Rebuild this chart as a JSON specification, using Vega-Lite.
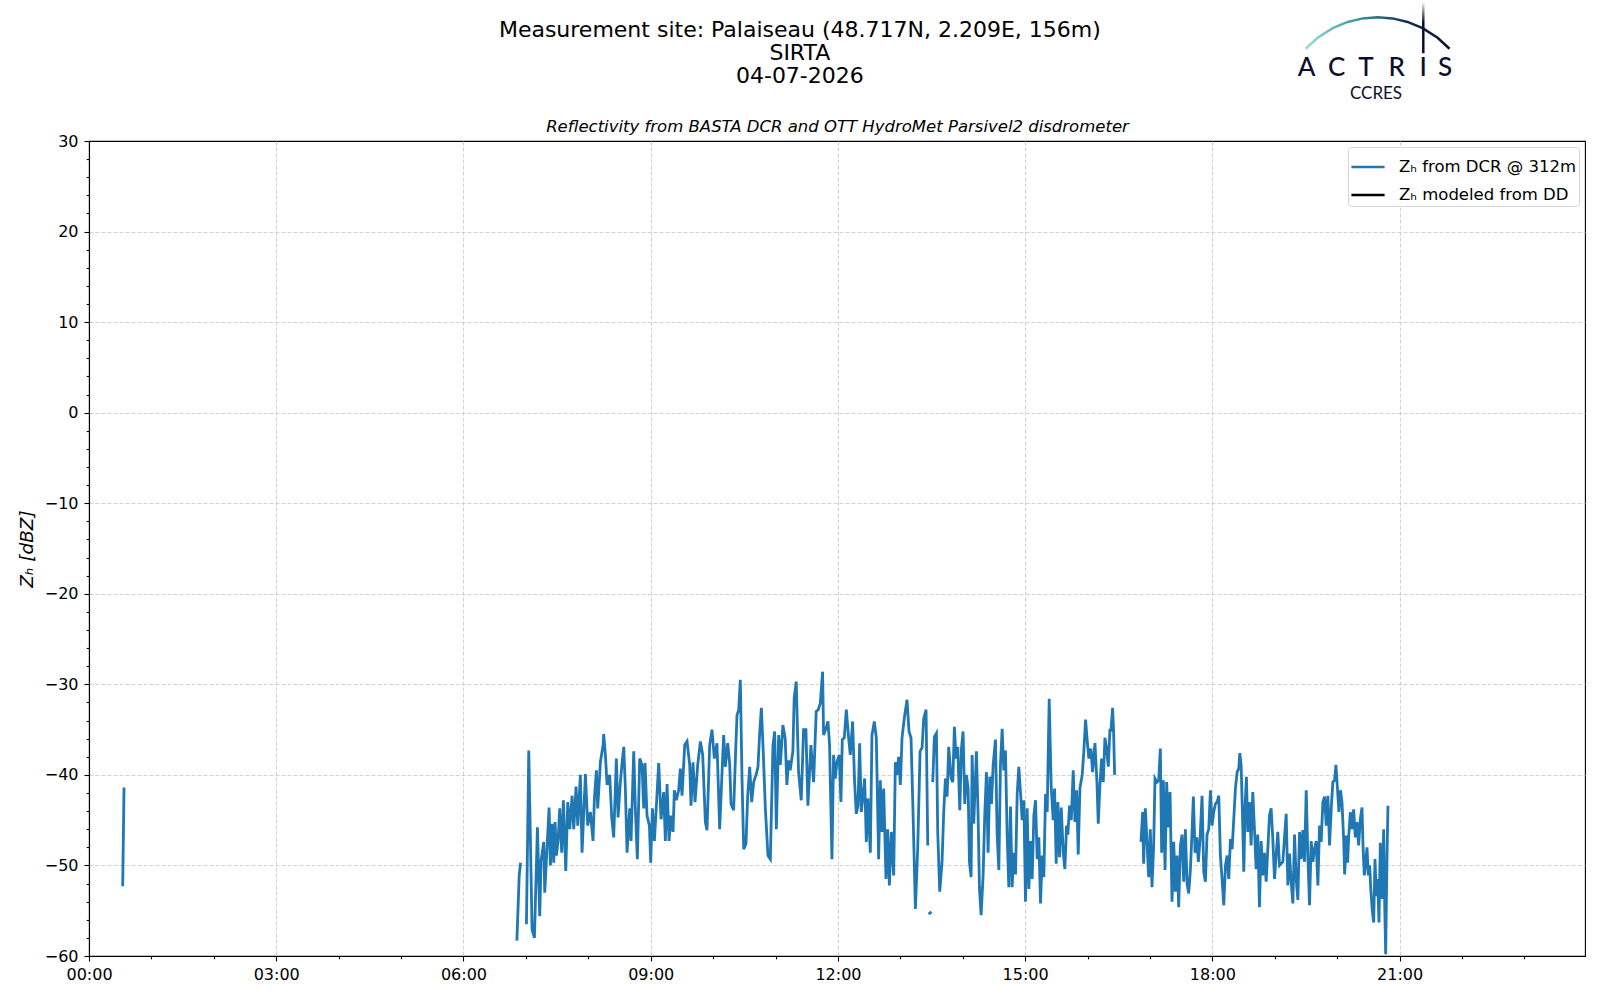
{
  "$schema": "https://vega.github.io/schema/vega-lite/v6.json",
  "width": 1496,
  "height": 815,
  "autosize": {"type": "none"},
  "padding": {"left": 89, "top": 141, "right": 15, "bottom": 44},
  "background": "white",
  "config": {
    "font": "DejaVu Sans",
    "view": {"stroke": "black", "strokeWidth": 1.1}
  },
  "datasets": {
    "dcr": [
      {"t": 0.540, "z": -52.3, "seg": 1}, {"t": 0.561, "z": -41.4, "seg": 1},
      {"t": 6.856, "z": -58.3, "seg": 2}, {"t": 6.893, "z": -51.1, "seg": 2}, {"t": 6.915, "z": -49.7, "seg": 2},
      {"t": 7.009, "z": -56.5, "seg": 3}, {"t": 7.046, "z": -37.3, "seg": 3}, {"t": 7.073, "z": -47.3, "seg": 3}, {"t": 7.099, "z": -57.1, "seg": 3},
      {"t": 7.137, "z": -58.0, "seg": 3}, {"t": 7.185, "z": -45.8, "seg": 3}, {"t": 7.222, "z": -55.6, "seg": 3}, {"t": 7.243, "z": -49.5, "seg": 3},
      {"t": 7.286, "z": -47.4, "seg": 3}, {"t": 7.302, "z": -53.0, "seg": 3}, {"t": 7.372, "z": -43.6, "seg": 3}, {"t": 7.393, "z": -50.0, "seg": 3},
      {"t": 7.420, "z": -45.4, "seg": 3}, {"t": 7.446, "z": -49.7, "seg": 3}, {"t": 7.468, "z": -45.2, "seg": 3}, {"t": 7.489, "z": -48.9, "seg": 3},
      {"t": 7.516, "z": -47.3, "seg": 3}, {"t": 7.542, "z": -43.7, "seg": 3}, {"t": 7.574, "z": -48.6, "seg": 3}, {"t": 7.601, "z": -42.8, "seg": 3},
      {"t": 7.639, "z": -50.6, "seg": 3}, {"t": 7.671, "z": -43.0, "seg": 3}, {"t": 7.703, "z": -46.0, "seg": 3}, {"t": 7.740, "z": -42.3, "seg": 3},
      {"t": 7.767, "z": -46.0, "seg": 3}, {"t": 7.804, "z": -41.3, "seg": 3}, {"t": 7.831, "z": -45.6, "seg": 3}, {"t": 7.873, "z": -40.0, "seg": 3},
      {"t": 7.900, "z": -48.6, "seg": 3}, {"t": 7.954, "z": -39.9, "seg": 3}, {"t": 7.991, "z": -45.6, "seg": 3}, {"t": 8.034, "z": -44.1, "seg": 3},
      {"t": 8.076, "z": -47.3, "seg": 3}, {"t": 8.098, "z": -42.6, "seg": 3}, {"t": 8.130, "z": -39.5, "seg": 3}, {"t": 8.151, "z": -43.7, "seg": 3},
      {"t": 8.194, "z": -38.6, "seg": 3}, {"t": 8.237, "z": -36.7, "seg": 3}, {"t": 8.247, "z": -35.5, "seg": 3}, {"t": 8.274, "z": -37.8, "seg": 3},
      {"t": 8.301, "z": -41.1, "seg": 3}, {"t": 8.343, "z": -40.0, "seg": 3}, {"t": 8.375, "z": -44.7, "seg": 3}, {"t": 8.407, "z": -46.9, "seg": 3},
      {"t": 8.450, "z": -38.2, "seg": 3}, {"t": 8.477, "z": -44.7, "seg": 3}, {"t": 8.514, "z": -40.8, "seg": 3}, {"t": 8.541, "z": -38.7, "seg": 3},
      {"t": 8.568, "z": -36.9, "seg": 3}, {"t": 8.594, "z": -41.5, "seg": 3}, {"t": 8.621, "z": -48.6, "seg": 3}, {"t": 8.664, "z": -43.7, "seg": 3},
      {"t": 8.685, "z": -47.3, "seg": 3}, {"t": 8.728, "z": -37.4, "seg": 3}, {"t": 8.754, "z": -43.7, "seg": 3}, {"t": 8.786, "z": -49.3, "seg": 3},
      {"t": 8.824, "z": -38.2, "seg": 3}, {"t": 8.861, "z": -38.9, "seg": 3}, {"t": 8.888, "z": -43.7, "seg": 3}, {"t": 8.909, "z": -38.7, "seg": 3},
      {"t": 8.941, "z": -44.5, "seg": 3}, {"t": 8.979, "z": -45.6, "seg": 3}, {"t": 9.000, "z": -49.7, "seg": 3}, {"t": 9.027, "z": -43.7, "seg": 3},
      {"t": 9.059, "z": -47.3, "seg": 3}, {"t": 9.091, "z": -43.4, "seg": 3}, {"t": 9.128, "z": -38.7, "seg": 3}, {"t": 9.166, "z": -44.9, "seg": 3},
      {"t": 9.208, "z": -41.9, "seg": 3}, {"t": 9.235, "z": -47.3, "seg": 3}, {"t": 9.262, "z": -41.0, "seg": 3}, {"t": 9.294, "z": -47.3, "seg": 3},
      {"t": 9.326, "z": -44.5, "seg": 3}, {"t": 9.358, "z": -46.3, "seg": 3}, {"t": 9.379, "z": -41.7, "seg": 3}, {"t": 9.411, "z": -42.8, "seg": 3},
      {"t": 9.448, "z": -41.7, "seg": 3}, {"t": 9.475, "z": -39.3, "seg": 3}, {"t": 9.502, "z": -42.3, "seg": 3}, {"t": 9.545, "z": -36.7, "seg": 3},
      {"t": 9.582, "z": -36.3, "seg": 3}, {"t": 9.625, "z": -38.9, "seg": 3}, {"t": 9.646, "z": -43.4, "seg": 3}, {"t": 9.678, "z": -38.6, "seg": 3},
      {"t": 9.710, "z": -43.0, "seg": 3}, {"t": 9.753, "z": -38.9, "seg": 3}, {"t": 9.796, "z": -36.3, "seg": 3}, {"t": 9.833, "z": -37.8, "seg": 3},
      {"t": 9.876, "z": -45.2, "seg": 3}, {"t": 9.902, "z": -46.1, "seg": 3}, {"t": 9.945, "z": -36.7, "seg": 3}, {"t": 9.982, "z": -35.0, "seg": 3},
      {"t": 10.020, "z": -38.2, "seg": 3}, {"t": 10.062, "z": -36.5, "seg": 3}, {"t": 10.105, "z": -46.0, "seg": 3}, {"t": 10.132, "z": -41.5, "seg": 3},
      {"t": 10.169, "z": -35.6, "seg": 3}, {"t": 10.196, "z": -39.1, "seg": 3}, {"t": 10.233, "z": -36.5, "seg": 3}, {"t": 10.265, "z": -38.7, "seg": 3},
      {"t": 10.287, "z": -43.2, "seg": 3}, {"t": 10.329, "z": -43.9, "seg": 3}, {"t": 10.361, "z": -37.4, "seg": 3}, {"t": 10.383, "z": -33.4, "seg": 3},
      {"t": 10.410, "z": -32.8, "seg": 3}, {"t": 10.436, "z": -29.5, "seg": 3}, {"t": 10.463, "z": -40.4, "seg": 3}, {"t": 10.490, "z": -48.2, "seg": 3},
      {"t": 10.527, "z": -47.6, "seg": 3}, {"t": 10.554, "z": -42.3, "seg": 3}, {"t": 10.586, "z": -39.1, "seg": 3}, {"t": 10.618, "z": -43.0, "seg": 3},
      {"t": 10.650, "z": -40.8, "seg": 3}, {"t": 10.692, "z": -39.9, "seg": 3}, {"t": 10.719, "z": -39.1, "seg": 3}, {"t": 10.746, "z": -35.4, "seg": 3},
      {"t": 10.773, "z": -32.6, "seg": 3}, {"t": 10.799, "z": -36.7, "seg": 3}, {"t": 10.837, "z": -43.7, "seg": 3}, {"t": 10.879, "z": -48.9, "seg": 3},
      {"t": 10.917, "z": -49.3, "seg": 3}, {"t": 10.959, "z": -36.7, "seg": 3}, {"t": 10.986, "z": -35.2, "seg": 3}, {"t": 11.013, "z": -46.0, "seg": 3},
      {"t": 11.050, "z": -35.6, "seg": 3}, {"t": 11.077, "z": -38.9, "seg": 3}, {"t": 11.118, "z": -34.5, "seg": 3}, {"t": 11.155, "z": -36.0, "seg": 3},
      {"t": 11.182, "z": -41.1, "seg": 3}, {"t": 11.209, "z": -38.4, "seg": 3}, {"t": 11.235, "z": -39.5, "seg": 3}, {"t": 11.278, "z": -37.4, "seg": 3},
      {"t": 11.299, "z": -31.5, "seg": 3}, {"t": 11.332, "z": -29.7, "seg": 3}, {"t": 11.369, "z": -39.7, "seg": 3}, {"t": 11.412, "z": -42.8, "seg": 3},
      {"t": 11.449, "z": -35.0, "seg": 3}, {"t": 11.487, "z": -35.0, "seg": 3}, {"t": 11.519, "z": -43.4, "seg": 3}, {"t": 11.567, "z": -36.7, "seg": 3},
      {"t": 11.610, "z": -40.8, "seg": 3}, {"t": 11.652, "z": -33.0, "seg": 3}, {"t": 11.684, "z": -32.8, "seg": 3}, {"t": 11.717, "z": -32.1, "seg": 3},
      {"t": 11.754, "z": -28.6, "seg": 3}, {"t": 11.770, "z": -35.6, "seg": 3}, {"t": 11.807, "z": -34.9, "seg": 3}, {"t": 11.840, "z": -34.1, "seg": 3},
      {"t": 11.866, "z": -36.7, "seg": 3}, {"t": 11.904, "z": -49.3, "seg": 3}, {"t": 11.930, "z": -37.8, "seg": 3}, {"t": 11.957, "z": -40.4, "seg": 3},
      {"t": 11.984, "z": -38.6, "seg": 3}, {"t": 12.021, "z": -37.8, "seg": 3}, {"t": 12.048, "z": -43.0, "seg": 3}, {"t": 12.070, "z": -36.1, "seg": 3},
      {"t": 12.102, "z": -35.9, "seg": 3}, {"t": 12.134, "z": -32.8, "seg": 3}, {"t": 12.171, "z": -35.9, "seg": 3}, {"t": 12.198, "z": -37.8, "seg": 3},
      {"t": 12.235, "z": -34.1, "seg": 3}, {"t": 12.267, "z": -40.8, "seg": 3}, {"t": 12.294, "z": -44.3, "seg": 3}, {"t": 12.321, "z": -43.4, "seg": 3},
      {"t": 12.348, "z": -36.5, "seg": 3}, {"t": 12.374, "z": -44.1, "seg": 3}, {"t": 12.401, "z": -42.3, "seg": 3}, {"t": 12.428, "z": -40.4, "seg": 3},
      {"t": 12.455, "z": -47.4, "seg": 3}, {"t": 12.481, "z": -42.6, "seg": 3}, {"t": 12.519, "z": -48.6, "seg": 3}, {"t": 12.545, "z": -35.6, "seg": 3},
      {"t": 12.583, "z": -34.1, "seg": 3}, {"t": 12.615, "z": -35.9, "seg": 3}, {"t": 12.652, "z": -49.3, "seg": 3}, {"t": 12.679, "z": -40.6, "seg": 3},
      {"t": 12.706, "z": -46.3, "seg": 3}, {"t": 12.733, "z": -41.5, "seg": 3}, {"t": 12.770, "z": -51.5, "seg": 3}, {"t": 12.797, "z": -46.0, "seg": 3},
      {"t": 12.824, "z": -52.2, "seg": 3}, {"t": 12.856, "z": -46.3, "seg": 3}, {"t": 12.893, "z": -51.1, "seg": 3}, {"t": 12.920, "z": -38.6, "seg": 3},
      {"t": 12.947, "z": -40.0, "seg": 3}, {"t": 12.973, "z": -38.0, "seg": 3}, {"t": 13.000, "z": -41.1, "seg": 3}, {"t": 13.027, "z": -35.9, "seg": 3},
      {"t": 13.064, "z": -33.7, "seg": 3}, {"t": 13.107, "z": -31.7, "seg": 3}, {"t": 13.139, "z": -35.2, "seg": 3}, {"t": 13.171, "z": -35.9, "seg": 3},
      {"t": 13.203, "z": -44.1, "seg": 3}, {"t": 13.241, "z": -54.8, "seg": 3}, {"t": 13.278, "z": -48.2, "seg": 3}, {"t": 13.316, "z": -37.4, "seg": 3},
      {"t": 13.348, "z": -37.0, "seg": 3}, {"t": 13.374, "z": -33.8, "seg": 3}, {"t": 13.412, "z": -32.8, "seg": 3}, {"t": 13.439, "z": -47.8, "seg": 3},
      {"t": 13.455, "z": -55.4, "seg": 4}, {"t": 13.497, "z": -55.1, "seg": 4},
      {"t": 13.519, "z": -40.8, "seg": 5}, {"t": 13.545, "z": -35.8, "seg": 5}, {"t": 13.578, "z": -35.4, "seg": 5}, {"t": 13.599, "z": -46.3, "seg": 5},
      {"t": 13.631, "z": -52.9, "seg": 5}, {"t": 13.668, "z": -49.6, "seg": 5}, {"t": 13.695, "z": -44.1, "seg": 5}, {"t": 13.722, "z": -40.4, "seg": 5},
      {"t": 13.749, "z": -42.4, "seg": 5}, {"t": 13.775, "z": -36.9, "seg": 5}, {"t": 13.813, "z": -40.4, "seg": 5}, {"t": 13.840, "z": -40.8, "seg": 5},
      {"t": 13.866, "z": -34.7, "seg": 5}, {"t": 13.893, "z": -38.2, "seg": 5}, {"t": 13.920, "z": -36.9, "seg": 5}, {"t": 13.952, "z": -43.9, "seg": 5},
      {"t": 13.979, "z": -37.1, "seg": 5}, {"t": 14.005, "z": -35.2, "seg": 5}, {"t": 14.032, "z": -43.2, "seg": 5}, {"t": 14.059, "z": -40.0, "seg": 5},
      {"t": 14.086, "z": -41.5, "seg": 5}, {"t": 14.107, "z": -49.6, "seg": 5}, {"t": 14.134, "z": -51.3, "seg": 5}, {"t": 14.150, "z": -37.8, "seg": 5},
      {"t": 14.176, "z": -45.4, "seg": 5}, {"t": 14.219, "z": -37.4, "seg": 5}, {"t": 14.246, "z": -44.5, "seg": 5}, {"t": 14.267, "z": -52.4, "seg": 5},
      {"t": 14.294, "z": -55.5, "seg": 5}, {"t": 14.326, "z": -51.1, "seg": 5}, {"t": 14.353, "z": -44.3, "seg": 5}, {"t": 14.380, "z": -39.7, "seg": 5},
      {"t": 14.406, "z": -48.6, "seg": 5}, {"t": 14.433, "z": -40.2, "seg": 5}, {"t": 14.460, "z": -43.2, "seg": 5}, {"t": 14.487, "z": -38.9, "seg": 5},
      {"t": 14.524, "z": -36.1, "seg": 5}, {"t": 14.551, "z": -46.6, "seg": 5}, {"t": 14.578, "z": -50.5, "seg": 5}, {"t": 14.604, "z": -38.9, "seg": 5},
      {"t": 14.631, "z": -34.9, "seg": 5}, {"t": 14.658, "z": -39.5, "seg": 5}, {"t": 14.684, "z": -37.3, "seg": 5}, {"t": 14.711, "z": -46.6, "seg": 5},
      {"t": 14.738, "z": -52.4, "seg": 5}, {"t": 14.765, "z": -43.5, "seg": 5}, {"t": 14.791, "z": -52.4, "seg": 5}, {"t": 14.818, "z": -48.6, "seg": 5},
      {"t": 14.845, "z": -51.0, "seg": 5}, {"t": 14.872, "z": -42.1, "seg": 5}, {"t": 14.898, "z": -39.1, "seg": 5}, {"t": 14.925, "z": -41.9, "seg": 5},
      {"t": 14.952, "z": -45.0, "seg": 5}, {"t": 14.979, "z": -42.8, "seg": 5}, {"t": 15.005, "z": -54.0, "seg": 5}, {"t": 15.032, "z": -43.7, "seg": 5},
      {"t": 15.059, "z": -52.6, "seg": 5}, {"t": 15.086, "z": -47.3, "seg": 5}, {"t": 15.112, "z": -51.5, "seg": 5}, {"t": 15.139, "z": -44.5, "seg": 5},
      {"t": 15.166, "z": -42.8, "seg": 5}, {"t": 15.193, "z": -49.3, "seg": 5}, {"t": 15.219, "z": -46.9, "seg": 5}, {"t": 15.246, "z": -54.2, "seg": 5},
      {"t": 15.273, "z": -48.9, "seg": 5}, {"t": 15.299, "z": -51.3, "seg": 5}, {"t": 15.326, "z": -42.1, "seg": 5}, {"t": 15.353, "z": -44.1, "seg": 5},
      {"t": 15.385, "z": -31.6, "seg": 5}, {"t": 15.417, "z": -41.3, "seg": 5}, {"t": 15.449, "z": -45.0, "seg": 5}, {"t": 15.471, "z": -41.5, "seg": 5},
      {"t": 15.497, "z": -49.8, "seg": 5}, {"t": 15.524, "z": -43.0, "seg": 5}, {"t": 15.551, "z": -49.1, "seg": 5}, {"t": 15.578, "z": -43.6, "seg": 5},
      {"t": 15.610, "z": -48.6, "seg": 5}, {"t": 15.636, "z": -50.4, "seg": 5}, {"t": 15.663, "z": -45.6, "seg": 5}, {"t": 15.684, "z": -46.6, "seg": 5},
      {"t": 15.711, "z": -43.4, "seg": 5}, {"t": 15.738, "z": -45.0, "seg": 5}, {"t": 15.770, "z": -39.5, "seg": 5}, {"t": 15.797, "z": -45.2, "seg": 5},
      {"t": 15.824, "z": -41.7, "seg": 5}, {"t": 15.850, "z": -48.8, "seg": 5}, {"t": 15.877, "z": -41.5, "seg": 5}, {"t": 15.914, "z": -40.0, "seg": 5},
      {"t": 15.941, "z": -37.3, "seg": 5}, {"t": 15.968, "z": -33.9, "seg": 5}, {"t": 15.995, "z": -36.3, "seg": 5}, {"t": 16.021, "z": -38.2, "seg": 5},
      {"t": 16.053, "z": -37.1, "seg": 5}, {"t": 16.080, "z": -39.7, "seg": 5}, {"t": 16.118, "z": -36.5, "seg": 5}, {"t": 16.150, "z": -40.8, "seg": 5},
      {"t": 16.171, "z": -45.4, "seg": 5}, {"t": 16.198, "z": -41.1, "seg": 5}, {"t": 16.225, "z": -38.2, "seg": 5}, {"t": 16.251, "z": -40.8, "seg": 5},
      {"t": 16.278, "z": -35.9, "seg": 5}, {"t": 16.305, "z": -37.1, "seg": 5}, {"t": 16.332, "z": -39.1, "seg": 5}, {"t": 16.358, "z": -34.9, "seg": 5},
      {"t": 16.374, "z": -35.2, "seg": 5}, {"t": 16.401, "z": -32.6, "seg": 5}, {"t": 16.417, "z": -35.2, "seg": 5}, {"t": 16.433, "z": -40.0, "seg": 5},
      {"t": 16.856, "z": -47.4, "seg": 6}, {"t": 16.882, "z": -44.1, "seg": 6}, {"t": 16.898, "z": -49.8, "seg": 6}, {"t": 16.925, "z": -43.7, "seg": 6},
      {"t": 16.952, "z": -47.4, "seg": 6}, {"t": 16.979, "z": -51.3, "seg": 6}, {"t": 17.005, "z": -46.0, "seg": 6}, {"t": 17.032, "z": -52.4, "seg": 6},
      {"t": 17.059, "z": -47.8, "seg": 6}, {"t": 17.080, "z": -40.4, "seg": 6}, {"t": 17.112, "z": -40.8, "seg": 6}, {"t": 17.139, "z": -40.6, "seg": 6},
      {"t": 17.166, "z": -37.1, "seg": 6}, {"t": 17.187, "z": -48.6, "seg": 6}, {"t": 17.214, "z": -40.6, "seg": 6}, {"t": 17.241, "z": -50.5, "seg": 6},
      {"t": 17.267, "z": -40.8, "seg": 6}, {"t": 17.294, "z": -45.8, "seg": 6}, {"t": 17.321, "z": -41.9, "seg": 6}, {"t": 17.353, "z": -54.0, "seg": 6},
      {"t": 17.380, "z": -47.4, "seg": 6}, {"t": 17.406, "z": -52.9, "seg": 6}, {"t": 17.433, "z": -48.9, "seg": 6}, {"t": 17.460, "z": -54.6, "seg": 6},
      {"t": 17.487, "z": -47.8, "seg": 6}, {"t": 17.513, "z": -46.6, "seg": 6}, {"t": 17.540, "z": -51.8, "seg": 6}, {"t": 17.567, "z": -46.0, "seg": 6},
      {"t": 17.594, "z": -52.0, "seg": 6}, {"t": 17.620, "z": -53.1, "seg": 6}, {"t": 17.647, "z": -50.5, "seg": 6}, {"t": 17.674, "z": -46.2, "seg": 6},
      {"t": 17.695, "z": -42.4, "seg": 6}, {"t": 17.722, "z": -48.6, "seg": 6}, {"t": 17.749, "z": -46.9, "seg": 6}, {"t": 17.775, "z": -49.6, "seg": 6},
      {"t": 17.802, "z": -47.1, "seg": 6}, {"t": 17.834, "z": -42.3, "seg": 6}, {"t": 17.861, "z": -50.7, "seg": 6}, {"t": 17.888, "z": -51.8, "seg": 6},
      {"t": 17.914, "z": -46.6, "seg": 6}, {"t": 17.941, "z": -46.0, "seg": 6}, {"t": 17.968, "z": -41.7, "seg": 6}, {"t": 17.995, "z": -45.6, "seg": 6},
      {"t": 18.021, "z": -44.1, "seg": 6}, {"t": 18.048, "z": -43.2, "seg": 6}, {"t": 18.075, "z": -43.0, "seg": 6}, {"t": 18.102, "z": -42.3, "seg": 6},
      {"t": 18.128, "z": -48.9, "seg": 6}, {"t": 18.155, "z": -51.5, "seg": 6}, {"t": 18.182, "z": -54.4, "seg": 6}, {"t": 18.209, "z": -50.0, "seg": 6},
      {"t": 18.235, "z": -48.9, "seg": 6}, {"t": 18.262, "z": -51.5, "seg": 6}, {"t": 18.289, "z": -47.1, "seg": 6}, {"t": 18.316, "z": -48.2, "seg": 6},
      {"t": 18.342, "z": -44.9, "seg": 6}, {"t": 18.369, "z": -41.5, "seg": 6}, {"t": 18.396, "z": -39.7, "seg": 6}, {"t": 18.422, "z": -39.3, "seg": 6},
      {"t": 18.439, "z": -37.6, "seg": 6}, {"t": 18.460, "z": -38.9, "seg": 6}, {"t": 18.481, "z": -44.1, "seg": 6}, {"t": 18.503, "z": -50.7, "seg": 6},
      {"t": 18.524, "z": -43.4, "seg": 6}, {"t": 18.545, "z": -40.2, "seg": 6}, {"t": 18.567, "z": -46.3, "seg": 6}, {"t": 18.594, "z": -43.0, "seg": 6},
      {"t": 18.620, "z": -47.8, "seg": 6}, {"t": 18.647, "z": -41.9, "seg": 6}, {"t": 18.674, "z": -46.0, "seg": 6}, {"t": 18.701, "z": -50.4, "seg": 6},
      {"t": 18.727, "z": -46.6, "seg": 6}, {"t": 18.754, "z": -54.6, "seg": 6}, {"t": 18.781, "z": -47.3, "seg": 6}, {"t": 18.807, "z": -51.1, "seg": 6},
      {"t": 18.834, "z": -48.6, "seg": 6}, {"t": 18.861, "z": -51.8, "seg": 6}, {"t": 18.888, "z": -48.2, "seg": 6}, {"t": 18.914, "z": -44.5, "seg": 6},
      {"t": 18.941, "z": -43.7, "seg": 6}, {"t": 18.968, "z": -47.1, "seg": 6}, {"t": 18.995, "z": -51.5, "seg": 6}, {"t": 19.021, "z": -48.9, "seg": 6},
      {"t": 19.048, "z": -46.3, "seg": 6}, {"t": 19.075, "z": -50.0, "seg": 6}, {"t": 19.128, "z": -49.6, "seg": 6}, {"t": 19.182, "z": -44.3, "seg": 6},
      {"t": 19.209, "z": -52.2, "seg": 6}, {"t": 19.235, "z": -48.7, "seg": 6}, {"t": 19.262, "z": -51.8, "seg": 6}, {"t": 19.289, "z": -54.2, "seg": 6},
      {"t": 19.316, "z": -46.6, "seg": 6}, {"t": 19.342, "z": -51.5, "seg": 6}, {"t": 19.369, "z": -53.8, "seg": 6}, {"t": 19.396, "z": -46.3, "seg": 6},
      {"t": 19.422, "z": -49.3, "seg": 6}, {"t": 19.449, "z": -46.1, "seg": 6}, {"t": 19.476, "z": -49.6, "seg": 6}, {"t": 19.503, "z": -41.7, "seg": 6},
      {"t": 19.529, "z": -48.9, "seg": 6}, {"t": 19.556, "z": -54.4, "seg": 6}, {"t": 19.583, "z": -47.3, "seg": 6}, {"t": 19.610, "z": -49.6, "seg": 6},
      {"t": 19.636, "z": -48.2, "seg": 6}, {"t": 19.663, "z": -47.3, "seg": 6}, {"t": 19.690, "z": -52.2, "seg": 6}, {"t": 19.717, "z": -45.6, "seg": 6},
      {"t": 19.743, "z": -47.4, "seg": 6}, {"t": 19.770, "z": -43.0, "seg": 6}, {"t": 19.797, "z": -42.4, "seg": 6}, {"t": 19.824, "z": -45.6, "seg": 6},
      {"t": 19.850, "z": -42.3, "seg": 6}, {"t": 19.877, "z": -47.8, "seg": 6}, {"t": 19.904, "z": -43.7, "seg": 6}, {"t": 19.930, "z": -40.8, "seg": 6},
      {"t": 19.957, "z": -40.6, "seg": 6}, {"t": 19.979, "z": -38.9, "seg": 6}, {"t": 20.000, "z": -41.1, "seg": 6}, {"t": 20.027, "z": -44.1, "seg": 6},
      {"t": 20.053, "z": -41.7, "seg": 6}, {"t": 20.076, "z": -43.0, "seg": 6}, {"t": 20.103, "z": -47.1, "seg": 6}, {"t": 20.119, "z": -51.0, "seg": 6},
      {"t": 20.146, "z": -46.7, "seg": 6}, {"t": 20.167, "z": -49.7, "seg": 6}, {"t": 20.183, "z": -46.9, "seg": 6}, {"t": 20.210, "z": -44.1, "seg": 6},
      {"t": 20.237, "z": -46.0, "seg": 6}, {"t": 20.263, "z": -43.8, "seg": 6}, {"t": 20.290, "z": -46.9, "seg": 6}, {"t": 20.317, "z": -45.2, "seg": 6},
      {"t": 20.343, "z": -47.8, "seg": 6}, {"t": 20.370, "z": -44.9, "seg": 6}, {"t": 20.397, "z": -43.6, "seg": 6}, {"t": 20.413, "z": -47.8, "seg": 6},
      {"t": 20.434, "z": -51.1, "seg": 6}, {"t": 20.456, "z": -49.7, "seg": 6}, {"t": 20.477, "z": -48.0, "seg": 6}, {"t": 20.498, "z": -51.1, "seg": 6},
      {"t": 20.519, "z": -50.0, "seg": 6}, {"t": 20.541, "z": -53.0, "seg": 6}, {"t": 20.562, "z": -55.0, "seg": 6}, {"t": 20.584, "z": -56.3, "seg": 6},
      {"t": 20.605, "z": -49.3, "seg": 6}, {"t": 20.626, "z": -53.4, "seg": 6}, {"t": 20.648, "z": -51.5, "seg": 6}, {"t": 20.669, "z": -56.3, "seg": 6},
      {"t": 20.690, "z": -47.5, "seg": 6}, {"t": 20.717, "z": -53.7, "seg": 6}, {"t": 20.744, "z": -46.0, "seg": 6}, {"t": 20.760, "z": -54.1, "seg": 6},
      {"t": 20.776, "z": -59.8, "seg": 6}, {"t": 20.797, "z": -49.3, "seg": 6}, {"t": 20.813, "z": -43.4, "seg": 6}
    ],
    "arc": [
      {"t": 19.494, "z": 40.19}, {"t": 19.686, "z": 41.40}, {"t": 19.926, "z": 42.46}, {"t": 20.167, "z": 43.15},
      {"t": 20.407, "z": 43.54}, {"t": 20.647, "z": 43.67}, {"t": 20.887, "z": 43.54}, {"t": 21.127, "z": 43.15},
      {"t": 21.368, "z": 42.46}, {"t": 21.608, "z": 41.40}, {"t": 21.800, "z": 40.19}
    ],
    "letters": [
      {"t": 19.511, "z": 37.2, "c": "A"}, {"t": 19.992, "z": 37.2, "c": "C"}, {"t": 20.462, "z": 37.2, "c": "T"},
      {"t": 20.953, "z": 37.2, "c": "R"}, {"t": 21.379, "z": 37.2, "c": "I"}, {"t": 21.727, "z": 37.2, "c": "S"}
    ]
  },
  "layer": [
    {
      "data": {"name": "dcr"},
      "mark": {"type": "line", "strokeWidth": 2.8, "clip": true},
      "encoding": {
        "x": {
          "field": "t",
          "type": "quantitative",
          "scale": {"domain": [0, 23.97], "nice": false, "zero": false},
          "axis": {
            "orient": "bottom",
            "title": null,
            "values": [0, 1, 2, 3, 4, 5, 6, 7, 8, 9, 10, 11, 12, 13, 14, 15, 16, 17, 18, 19, 20, 21, 22, 23],
            "labelExpr": "datum.value % 3 === 0 ? ((datum.value < 10 ? '0' : '') + datum.value + ':00') : ''",
            "labelFontSize": 16,
            "labelColor": "black",
            "labelPadding": 5,
            "labelOverlap": false,
            "labelFlush": false,
            "labelBound": false,
            "domainColor": "black",
            "domainWidth": 1.1,
            "tickColor": "black",
            "tickWidth": 1.1,
            "tickSize": {"condition": {"test": "datum.value % 3 === 0", "value": 5}, "value": 2.8},
            "grid": true,
            "gridColor": "#cccccc",
            "gridDash": [4, 2],
            "gridWidth": 0.9,
            "gridOpacity": {"condition": {"test": "datum.value % 3 === 0 && datum.value > 0", "value": 1}, "value": 0}
          }
        },
        "y": {
          "field": "z",
          "type": "quantitative",
          "scale": {"domain": [-60, 30], "nice": false, "zero": false},
          "axis": {
            "orient": "left",
            "title": "Zₕ [dBZ]",
            "titleFontStyle": "italic",
            "titleFontWeight": "normal",
            "titleFontSize": 18.5,
            "titleColor": "black",
            "titlePadding": 8,
            "values": [-60, -58, -56, -54, -52, -50, -48, -46, -44, -42, -40, -38, -36, -34, -32, -30, -28, -26, -24, -22, -20, -18, -16, -14, -12, -10, -8, -6, -4, -2, 0, 2, 4, 6, 8, 10, 12, 14, 16, 18, 20, 22, 24, 26, 28, 30],
            "labelExpr": "datum.value % 10 === 0 ? datum.label : ''",
            "labelFontSize": 16,
            "labelColor": "black",
            "labelPadding": 6,
            "labelOverlap": false,
            "labelBound": false,
            "domainColor": "black",
            "domainWidth": 1.1,
            "tickColor": "black",
            "tickWidth": 1.1,
            "tickSize": {"condition": {"test": "datum.value % 10 === 0", "value": 5}, "value": 2.8},
            "grid": true,
            "gridColor": "#cccccc",
            "gridDash": [4, 2],
            "gridWidth": 0.9,
            "gridOpacity": {"condition": {"test": "datum.value % 10 === 0 && datum.value > -60 && datum.value < 30", "value": 1}, "value": 0}
          }
        },
        "detail": {"field": "seg", "type": "nominal"},
        "color": {
          "datum": "Zₕ from DCR @ 312m",
          "scale": {"domain": ["Zₕ from DCR @ 312m", "Zₕ modeled from DD"], "range": ["#1f77b4", "#000000"]},
          "legend": {
            "title": null,
            "orient": "top-right",
            "offset": 6,
            "padding": 2,
            "strokeColor": "#d5d5d5",
            "fillColor": "white",
            "cornerRadius": 3,
            "symbolType": "stroke",
            "symbolStrokeWidth": 2.5,
            "symbolSize": 1100,
            "labelFontSize": 16.5,
            "labelColor": "black",
            "labelOffset": 13,
            "labelLimit": 0,
            "rowPadding": 1
          }
        }
      }
    },
    {
      "data": {"name": "arc"},
      "mark": {
        "type": "line",
        "clip": false,
        "strokeWidth": 2.5,
        "stroke": {
          "gradient": "linear",
          "x1": 0, "y1": 0, "x2": 1, "y2": 0,
          "stops": [
            {"offset": 0, "color": "#9fdcd4"},
            {"offset": 0.35, "color": "#3d9aa0"},
            {"offset": 0.7, "color": "#12304f"},
            {"offset": 1, "color": "#0c0d2e"}
          ]
        }
      },
      "encoding": {
        "x": {
          "field": "t",
          "type": "quantitative",
          "axis": {
            "orient": "top",
            "title": "Reflectivity from BASTA DCR and OTT HydroMet Parsivel2 disdrometer",
            "titleFontStyle": "italic",
            "titleFontWeight": "normal",
            "titleFontSize": 16.5,
            "titleColor": "black",
            "titlePadding": 7,
            "labels": false,
            "ticks": false,
            "domain": false,
            "grid": false
          }
        },
        "y": {"field": "z", "type": "quantitative", "axis": null}
      }
    },
    {
      "data": {"name": "letters"},
      "mark": {"type": "text", "font": "Lato", "fontSize": 26, "fontWeight": 500, "color": "#0c0d2e", "align": "center", "baseline": "alphabetic", "clip": false},
      "encoding": {
        "x": {"field": "t", "type": "quantitative", "axis": null},
        "y": {"field": "z", "type": "quantitative", "axis": null},
        "text": {"field": "c"}
      }
    },
    {
      "data": {"values": [{}]},
      "mark": {"type": "text", "font": "Lato", "fontSize": 17, "color": "#0c0d2e", "align": "center", "baseline": "alphabetic", "clip": false},
      "encoding": {
        "x": {"datum": 20.621, "type": "quantitative", "axis": null},
        "y": {"datum": 34.67, "type": "quantitative", "axis": null},
        "text": {"value": "CCRES"}
      }
    },
    {
      "data": {"values": [{}]},
      "mark": {
        "type": "rect",
        "clip": false,
        "fill": {
          "gradient": "linear",
          "x1": 0, "y1": 0, "x2": 0, "y2": 1,
          "stops": [
            {"offset": 0, "color": "#ffffff"},
            {"offset": 0.4, "color": "#0c0d2e"},
            {"offset": 1, "color": "#0c0d2e"}
          ]
        }
      },
      "encoding": {
        "x": {"datum": 21.359, "type": "quantitative", "axis": null},
        "x2": {"datum": 21.399},
        "y": {"datum": 39.69, "type": "quantitative", "axis": null},
        "y2": {"datum": 45.39}
      }
    },
    {
      "data": {"values": [{}]},
      "mark": {"type": "text", "fontSize": 22, "lineHeight": 23, "color": "black", "align": "center", "baseline": "alphabetic", "clip": false},
      "encoding": {
        "x": {"datum": 11.39, "type": "quantitative", "axis": null},
        "y": {"datum": 41.53, "type": "quantitative", "axis": null},
        "text": {"value": ["Measurement site: Palaiseau (48.717N, 2.209E, 156m)", "SIRTA", "04-07-2026"]}
      }
    }
  ],
  "resolve": {"axis": {"x": "independent", "y": "independent"}}
}
